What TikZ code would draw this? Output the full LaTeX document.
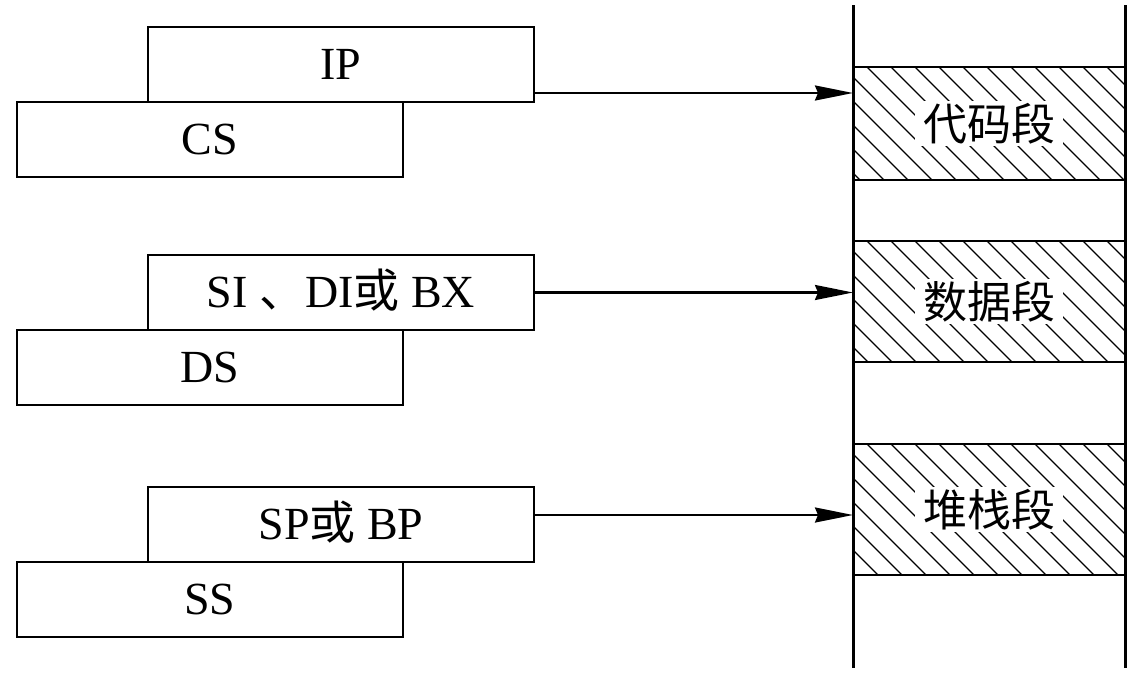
\documentclass[tikz,border=0pt]{standalone}
\usepackage{fontspec}
\setmainfont{Liberation Serif}
\newfontfamily\cjk{Noto Sans CJK SC}
\usetikzlibrary{positioning, arrows.meta}

\begin{document}
\begin{tikzpicture}[
         x=1pt, y=-1pt,
         font=\fontsize{46pt}{52pt}\selectfont,
         register/.style={rectangle, draw, line width=2.6pt, outer sep=0pt, inner sep=0pt,
                          minimum width=386pt, minimum height=75pt, text height=30pt, text depth=0pt},
         segment/.style={rectangle, draw, line width=2.5pt, outer sep=0pt, minimum width=272pt},
         hatch/.style={line width=1.1pt},
         segname/.style={fill=white, inner xsep=8pt, inner ysep=2pt,
                         font=\cjk\fontsize{44pt}{50pt}\selectfont},
         pointer/.style={-{Stealth[length=38pt, width=15pt, inset=3pt]}, line width=2.2pt}
      ]
         \useasboundingbox (0,0) rectangle (1136,675);

         % Memory column and its segments
         \node[minimum width=272pt, minimum height=663pt, outer sep=0pt, inner sep=0pt] (mem) at (989,336.5) {};
         \node[segment, minimum height=113pt] (code) at (989,123.5) {};
         \node[segment, minimum height=121pt] (data) at (989,301.5) {};
         \node[segment, minimum height=131pt] (stack) at (989,509.5) {};
         \foreach \seg in {code,data,stack} {
            \begin{scope}
               \clip (\seg.north west) rectangle (\seg.south east);
               \foreach \d in {-154,-130,...,272}
                  \draw[hatch] ([xshift=\d pt]\seg.north west) -- ++(140,140);
            \end{scope}
         }
         \node[segname] (codename) at (code) {代码段};
         \node[segname] (dataname) at (data) {数据段};
         \node[segname] (stackname) at (stack) {堆栈段};
         \draw[line width=3pt] (mem.north west) -- (mem.south west);
         \draw[line width=3pt] (mem.north east) -- (mem.south east);

         % Offset registers and segment registers
         \node[register] (ip) at (341,64.5) {IP};
         \node[register, below=0pt of ip, xshift=-131pt] (cs) {CS};
         \node[register] (si) at (341,292.5) {SI\ {\cjk 、}DI{\cjk 或}\ BX};
         \node[register, below=0pt of si, xshift=-131pt] (ds) {DS};
         \node[register] (sp) at (341,524.5) {SP{\cjk 或}\ BP};
         \node[register, below=0pt of sp, xshift=-131pt] (ss) {SS};

         % Arrows into the segments
         \coordinate (ipout) at ([yshift=-28.5pt]ip.east);
         \coordinate (siout) at (si.east);
         \coordinate (spout) at ([yshift=9.5pt]sp.east);
         \draw[pointer] (ipout) -- (ipout -| mem.west);
         \draw[pointer] (siout) -- (siout -| mem.west);
         \draw[pointer] (spout) -- (spout -| mem.west);
      \end{tikzpicture}
\end{document}
